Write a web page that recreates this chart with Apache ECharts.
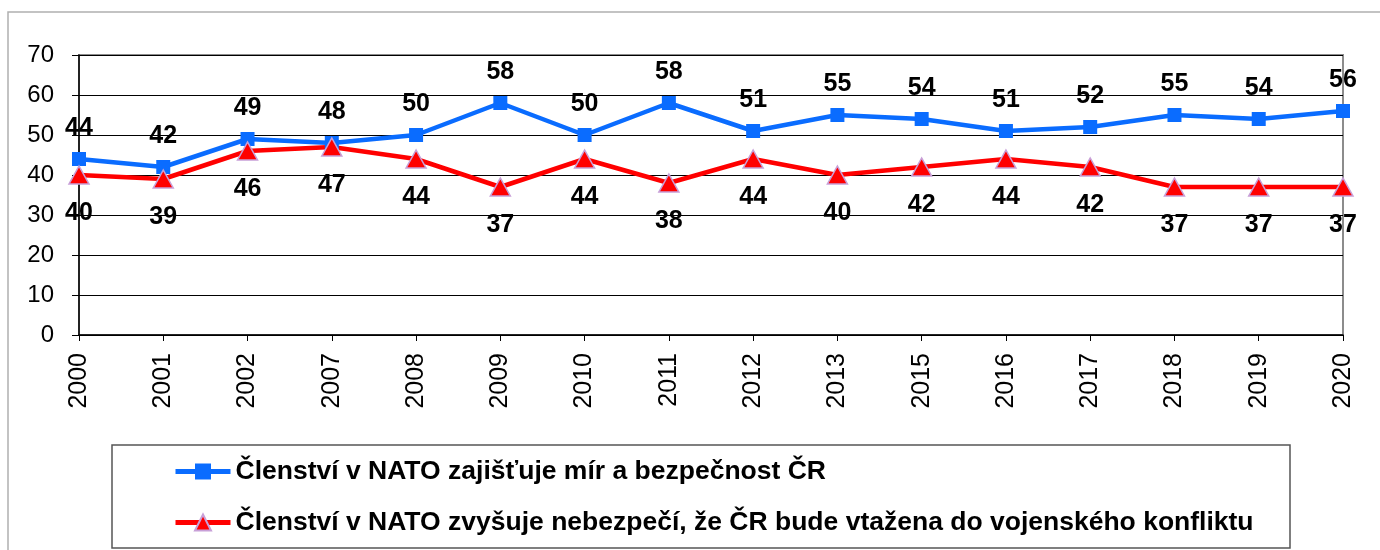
<!DOCTYPE html>
<html>
<head>
<meta charset="utf-8">
<script src="https://cdn.jsdelivr.net/npm/echarts@6/dist/echarts.min.js"></script>
<style>
  html, body { margin: 0; padding: 0; background: #fff; }
  #chart { width: 1380px; height: 550px; }
</style>
</head>
<body>
<div id="chart"></div>
<script>
var years = ["2000", "2001", "2002", "2007", "2008", "2009", "2010", "2011", "2012", "2013", "2015", "2016", "2017", "2018", "2019", "2020"];
var seriesNames = [
  "Členství v NATO zajišťuje mír a bezpečnost ČR",
  "Členství v NATO zvyšuje nebezpečí, že ČR bude vtažena do vojenského konfliktu"
];
var peaceValues = [44, 42, 49, 48, 50, 58, 50, 58, 51, 55, 54, 51, 52, 55, 54, 56];
var dangerValues = [40, 39, 46, 47, 44, 37, 44, 38, 44, 40, 42, 44, 42, 37, 37, 37];
var yTicks = { min: 0, max: 70, interval: 10 };

var chart = echarts.init(document.getElementById("chart"));

var font = "Arial, 'Liberation Sans', sans-serif";

var option = {
  animation: false,
  backgroundColor: "#fff",
  textStyle: { fontFamily: font },
  grid: {
    left: 79,
    right: 37,
    top: 55,
    bottom: 215,
    show: true,
    borderColor: "#8c8c8c",
    borderWidth: 2
  },
  xAxis: {
    type: "category",
    data: years,
    boundaryGap: false,
    axisLine: { lineStyle: { color: "#000", width: 1.5 } },
    axisTick: { show: true, length: 6, lineStyle: { color: "#000" } },
    axisLabel: {
      rotate: 90,
      margin: 18,
      color: "#000",
      fontSize: 25,
      fontFamily: font
    },
    splitLine: { show: false }
  },
  yAxis: {
    type: "value",
    min: yTicks.min,
    max: yTicks.max,
    interval: yTicks.interval,
    axisLine: { show: true, lineStyle: { color: "#000", width: 1.5 } },
    axisTick: { show: true, length: 7, lineStyle: { color: "#000" } },
    axisLabel: {
      margin: 25,
      color: "#000",
      fontSize: 24,
      fontFamily: font
    },
    splitLine: { lineStyle: { color: "#000", width: 1 } }
  },
  legend: {
    orient: "vertical",
    left: 168,
    top: 453,
    itemWidth: 55,
    itemHeight: 20,
    itemGap: 24,
    lineStyle: { width: 5 },
    textStyle: {
      fontSize: 26.5,
      fontWeight: "bold",
      color: "#000",
      fontFamily: font
    },
    data: seriesNames
  },
  graphic: [
    {
      type: "rect",
      shape: { x: 8, y: 12, width: 1400, height: 600 },
      style: { fill: "none", stroke: "#b0b0b0", lineWidth: 1.5 },
      z: -1,
      silent: true
    },
    {
      type: "rect",
      shape: { x: 112, y: 445, width: 1178, height: 103 },
      style: { fill: "none", stroke: "#555", lineWidth: 1.5 },
      silent: true
    }
  ],
  series: [
    {
      name: seriesNames[0],
      type: "line",
      data: peaceValues,
      symbol: "rect",
      symbolSize: 14,
      lineStyle: { color: "#0a6cff", width: 4.5 },
      itemStyle: { color: "#0a6cff" },
      label: {
        show: true,
        position: "top",
        distance: 11,
        color: "#000",
        fontSize: 25,
        fontWeight: "bold",
        fontFamily: font
      }
    },
    {
      name: seriesNames[1],
      type: "line",
      data: dangerValues,
      symbol: "triangle",
      symbolSize: [20, 18],
      lineStyle: { color: "#ff0000", width: 4.5 },
      itemStyle: { color: "#ff0000", borderColor: "#c8a0d8", borderWidth: 1.5 },
      label: {
        show: true,
        position: "bottom",
        distance: 16,
        color: "#000",
        fontSize: 25,
        fontWeight: "bold",
        fontFamily: font
      }
    }
  ]
};

chart.setOption(option);
</script>
</body>
</html>
